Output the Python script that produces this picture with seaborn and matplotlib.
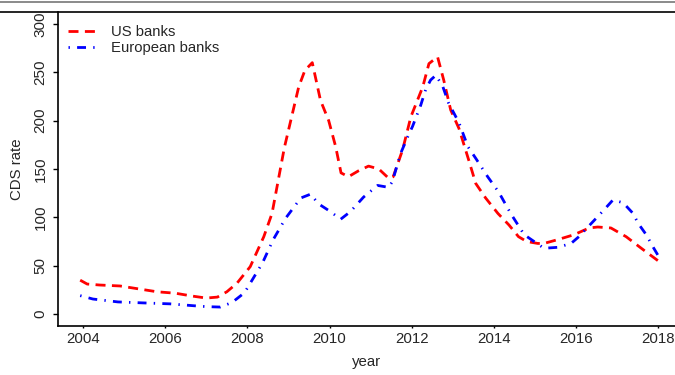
import matplotlib
matplotlib.use("Agg")
import matplotlib.pyplot as plt
from matplotlib.lines import Line2D
import seaborn as sns
import pandas as pd

us_years = [2003.93, 2004.1, 2004.4, 2004.9, 2005.35, 2005.8, 2006.25, 2006.65, 2007.0, 2007.27,
            2007.5, 2007.75, 2008.07, 2008.4, 2008.6, 2008.75, 2008.9, 2009.1, 2009.25, 2009.4,
            2009.58, 2009.78, 2009.98, 2010.15, 2010.28, 2010.46, 2010.7, 2010.95, 2011.2, 2011.45,
            2011.55, 2011.78, 2011.98, 2012.27, 2012.42, 2012.63, 2012.78, 2012.95, 2013.15, 2013.39,
            2013.56, 2013.8, 2014.1, 2014.37, 2014.6, 2014.8, 2015.07, 2015.22, 2015.56, 2015.95,
            2016.32, 2016.53, 2016.85, 2017.22, 2017.59, 2018.0]
us_values = [35, 31, 30, 29, 26, 23, 21.5, 18.6, 16.5, 17.5,
             23, 32, 49, 80, 104, 138, 172, 208, 235, 252,
             260, 221, 200, 173, 146, 142, 148, 153, 150, 140,
             142, 170, 204, 235, 259, 266, 242, 211, 192, 159,
             135, 120, 104, 92, 80, 75, 73, 73, 77, 82,
             89, 90, 89, 80, 68, 55]

eu_years = [2003.93, 2004.24, 2004.85, 2005.46, 2006.12, 2006.68, 2007.02, 2007.34, 2007.63, 2007.93,
            2008.37, 2008.63, 2008.93, 2009.3, 2009.54, 2009.73, 2010.02, 2010.27, 2010.51, 2010.83,
            2011.17, 2011.44, 2011.53, 2011.73, 2011.9, 2012.02, 2012.22, 2012.34, 2012.46, 2012.59,
            2012.76, 2012.9, 2013.15, 2013.37, 2013.56, 2013.85, 2014.12, 2014.41, 2014.74, 2014.98,
            2015.22, 2015.56, 2015.88, 2016.07, 2016.29, 2016.49, 2016.73, 2016.9, 2017.15, 2017.39,
            2017.51, 2017.71, 2017.88, 2018.02]
eu_values = [19, 15.5, 12.5, 11.5, 10.5, 8.6, 7.6, 7.2, 12, 22,
             53, 77, 99, 120, 124, 114, 106, 98, 106, 121,
             133, 131, 137, 166, 183, 194, 216, 232, 242, 247,
             235, 218, 198, 173, 161, 142, 126, 104, 82, 75,
             68, 69, 73, 80, 90, 99, 110, 118, 115, 104,
             94, 82, 69, 59]

series_names = ["US banks", "European banks"]
x_ticks = [2004, 2006, 2008, 2010, 2012, 2014, 2016, 2018]
y_ticks = [0, 50, 100, 150, 200, 250, 300]

df = pd.concat([
    pd.DataFrame({"year": us_years, "CDS rate": us_values, "series": series_names[0]}),
    pd.DataFrame({"year": eu_years, "CDS rate": eu_values, "series": series_names[1]}),
])

sns.set_style("ticks")
plt.rcParams["font.family"] = ["Liberation Sans", "DejaVu Sans"]

fig = plt.figure(figsize=(6.75, 3.75), dpi=100)
ax = fig.add_axes([58/675, 1-326/375, 1-58/675, (326-12)/375])

sns.lineplot(data=df, x="year", y="CDS rate", hue="series", style="series",
             hue_order=series_names, style_order=series_names,
             palette={"US banks": "#FF0000", "European banks": "#0000FF"},
             dashes={"US banks": (3.6, 2.3), "European banks": (0.5, 2.6, 3.2, 2.6)},
             estimator=None, sort=True, linewidth=2.0, ax=ax)

ax.set_xlim(2003.39, 2018.41)
ax.set_ylim(-12.4, 312.4)
ax.set_xticks(x_ticks)
ax.set_yticks(y_ticks)
ax.tick_params(axis="x", direction="out", length=1.5, width=1, labelsize=10.8, pad=3, color="black")
ax.tick_params(axis="y", direction="out", length=3.5, width=1, labelsize=11, pad=4, color="black")
for lab in ax.get_yticklabels():
    lab.set_rotation(90)
    lab.set_va("center")
ax.set_xlabel("year", fontsize=10.8, labelpad=6)
ax.set_ylabel("CDS rate", fontsize=10.8, labelpad=7)
for s in ["top", "right"]:
    ax.spines[s].set_visible(False)
for s in ["left", "bottom"]:
    ax.spines[s].set_linewidth(1.2)
    ax.spines[s].set_color("black")

leg = ax.legend(loc="upper left", bbox_to_anchor=(0.0, 0.992), frameon=False, fontsize=10.7,
                handlelength=2.0, handletextpad=0.85, labelspacing=0.15, borderaxespad=0.3)

fig.add_artist(Line2D([0, 1], [1-12/375, 1-12/375], color="black", lw=1.2, transform=fig.transFigure))
fig.add_artist(Line2D([0, 1], [1-1.5/375, 1-1.5/375], color="#777777", lw=1.2, transform=fig.transFigure))

fig.savefig("out.png", dpi=100)
